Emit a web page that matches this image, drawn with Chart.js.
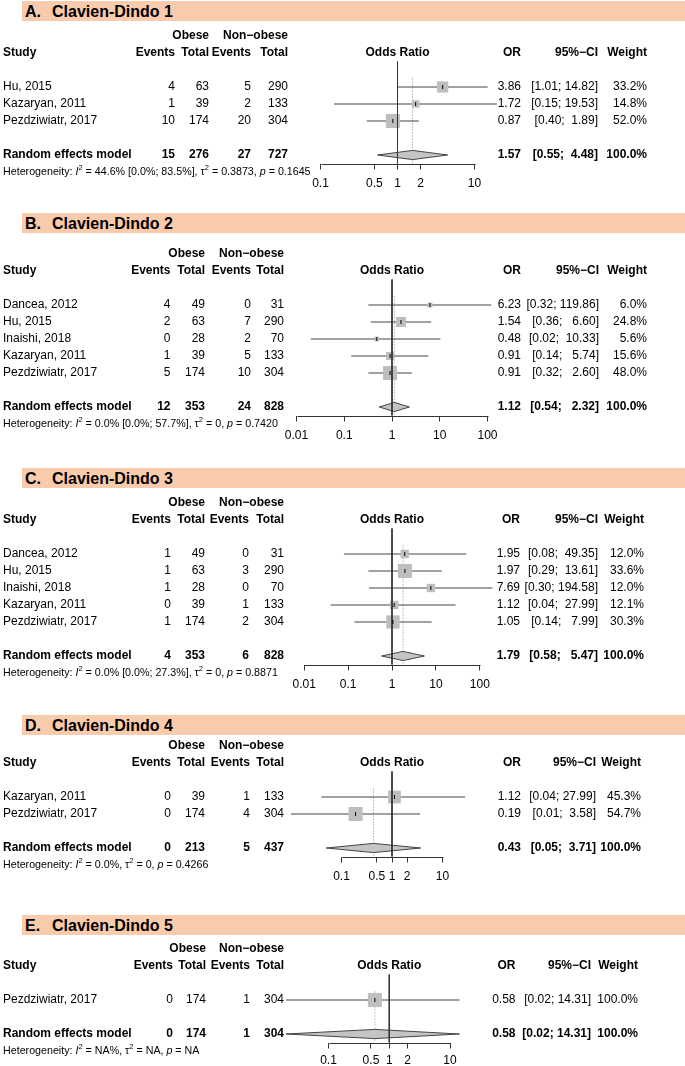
<!DOCTYPE html>
<html>
<head>
<meta charset="utf-8">
<script src="https://cdn.jsdelivr.net/npm/chart.js@4.4.0/dist/chart.umd.min.js"></script>
<style>
  body { margin: 0; background: #fff; }
  #page { position: relative; width: 685px; height: 1066px; overflow: hidden; font-family: "Liberation Sans", Arial, Helvetica, sans-serif; }
  .band { position: absolute; left: 22px; right: 0; height: 20px; background: #F8CBAD; }
  .band span { position: absolute; top: 0; line-height: 21px; font-size: 16px; font-weight: bold; color: #000; }
  canvas { position: absolute; left: 0; }
</style>
</head>
<body>
<div id="page"></div>
<script>
// ---- dados de cada painel ----
const panelLetters = ["A.", "B.", "C.", "D.", "E."];
const panelTitles = ["Clavien-Dindo 1", "Clavien-Dindo 2", "Clavien-Dindo 3", "Clavien-Dindo 4", "Clavien-Dindo 5"];

// Clavien-Dindo 1
const studies1 = ["Hu, 2015", "Kazaryan, 2011", "Pezdziwiatr, 2017"];
const obeseEvents1 = [4, 1, 10];
const obeseTotal1 = [63, 39, 174];
const nonEvents1 = [5, 2, 20];
const nonTotal1 = [290, 133, 304];
const or1 = [3.86, 1.72, 0.87];
const lower1 = [1.01, 0.15, 0.40];
const upper1 = [14.82, 19.53, 1.89];
const weight1 = [33.2, 14.8, 52.0];
const pooled1 = [1.57, 0.55, 4.48];
const pooledCounts1 = [15, 276, 27, 727];
const ticks1 = [0.1, 0.5, 1, 2, 10];

// Clavien-Dindo 2
const studies2 = ["Dancea, 2012", "Hu, 2015", "Inaishi, 2018", "Kazaryan, 2011", "Pezdziwiatr, 2017"];
const obeseEvents2 = [4, 2, 0, 1, 5];
const obeseTotal2 = [49, 63, 28, 39, 174];
const nonEvents2 = [0, 7, 2, 5, 10];
const nonTotal2 = [31, 290, 70, 133, 304];
const or2 = [6.23, 1.54, 0.48, 0.91, 0.91];
const lower2 = [0.32, 0.36, 0.02, 0.14, 0.32];
const upper2 = [119.86, 6.60, 10.33, 5.74, 2.60];
const weight2 = [6.0, 24.8, 5.6, 15.6, 48.0];
const pooled2 = [1.12, 0.54, 2.32];
const pooledCounts2 = [12, 353, 24, 828];
const ticks2 = [0.01, 0.1, 1, 10, 100];

// Clavien-Dindo 3
const studies3 = ["Dancea, 2012", "Hu, 2015", "Inaishi, 2018", "Kazaryan, 2011", "Pezdziwiatr, 2017"];
const obeseEvents3 = [1, 1, 1, 0, 1];
const obeseTotal3 = [49, 63, 28, 39, 174];
const nonEvents3 = [0, 3, 0, 1, 2];
const nonTotal3 = [31, 290, 70, 133, 304];
const or3 = [1.95, 1.97, 7.69, 1.12, 1.05];
const lower3 = [0.08, 0.29, 0.30, 0.04, 0.14];
const upper3 = [49.35, 13.61, 194.58, 27.99, 7.99];
const weight3 = [12.0, 33.6, 12.0, 12.1, 30.3];
const pooled3 = [1.79, 0.58, 5.47];
const pooledCounts3 = [4, 353, 6, 828];
const ticks3 = [0.01, 0.1, 1, 10, 100];

// Clavien-Dindo 4
const studies4 = ["Kazaryan, 2011", "Pezdziwiatr, 2017"];
const obeseEvents4 = [0, 0];
const obeseTotal4 = [39, 174];
const nonEvents4 = [1, 4];
const nonTotal4 = [133, 304];
const or4 = [1.12, 0.19];
const lower4 = [0.04, 0.01];
const upper4 = [27.99, 3.58];
const weight4 = [45.3, 54.7];
const pooled4 = [0.43, 0.05, 3.71];
const pooledCounts4 = [0, 213, 5, 437];
const ticks4 = [0.1, 0.5, 1, 2, 10];

// Clavien-Dindo 5
const studies5 = ["Pezdziwiatr, 2017"];
const obeseEvents5 = [0];
const obeseTotal5 = [174];
const nonEvents5 = [1];
const nonTotal5 = [304];
const or5 = [0.58];
const lower5 = [0.02];
const upper5 = [14.31];
const weight5 = [100.0];
const pooled5 = [0.58, 0.02, 14.31];
const pooledCounts5 = [0, 174, 1, 304];
const ticks5 = [0.1, 0.5, 1, 2, 10];

// heterogeneidade
const hetI2 = ["44.6% [0.0%; 83.5%]", "0.0% [0.0%; 57.7%]", "0.0% [0.0%; 27.3%]", "0.0%", "NA%"];
const hetTau2 = ["0.3873", "0", "0", "0", "NA"];
const hetP = ["0.1645", "0.7420", "0.8871", "0.4266", "NA"];

const panels = [
    { studies: studies1, oe: obeseEvents1, ot: obeseTotal1, ne: nonEvents1, nt: nonTotal1, or: or1, lo: lower1, hi: upper1, w: weight1, pooled: pooled1, counts: pooledCounts1, ticks: ticks1 },
    { studies: studies2, oe: obeseEvents2, ot: obeseTotal2, ne: nonEvents2, nt: nonTotal2, or: or2, lo: lower2, hi: upper2, w: weight2, pooled: pooled2, counts: pooledCounts2, ticks: ticks2 },
    { studies: studies3, oe: obeseEvents3, ot: obeseTotal3, ne: nonEvents3, nt: nonTotal3, or: or3, lo: lower3, hi: upper3, w: weight3, pooled: pooled3, counts: pooledCounts3, ticks: ticks3 },
    { studies: studies4, oe: obeseEvents4, ot: obeseTotal4, ne: nonEvents4, nt: nonTotal4, or: or4, lo: lower4, hi: upper4, w: weight4, pooled: pooled4, counts: pooledCounts4, ticks: ticks4 },
    { studies: studies5, oe: obeseEvents5, ot: obeseTotal5, ne: nonEvents5, nt: nonTotal5, or: or5, lo: lower5, hi: upper5, w: weight5, pooled: pooled5, counts: pooledCounts5, ticks: ticks5 }
];

// ---- layout (pixels) ----
const FONT = '"Liberation Sans", Arial, Helvetica, sans-serif';
const ROW = 17;
const bandTops = [1, 213, 468, 715, 915];
const headerRows = [53, 271, 520, 763, 966];
const onePx = [397.5, 392, 392, 392, 389.25];     // posicao de OR = 1
const decadePx = [77, 47.75, 43.9, 50.5, 60.75];  // largura de uma decada
const tickPad = [7, 7, 7, 7, 5];
// eventos, total, eventos, total, OR, IC, peso (borda direita)
const colX = [
    [175, 209, 251, 288, 521, 598, 647],
    [170.5, 205, 251, 284, 521, 599, 647],
    [171, 205, 249, 284, 520, 598, 644],
    [171, 205, 250, 284, 521, 596, 641],
    [173, 206, 250, 284, 515.5, 591, 638]
];
const AREA_L = 200, AREA_R = 540;
const SQUARE_MAX = 14;

const page = document.getElementById('page');

function texto(ctx, s, x, y, align, bold, size) {
    ctx.font = (bold ? 'bold ' : '') + (size || 12) + 'px ' + FONT;
    ctx.textAlign = align;
    ctx.textBaseline = 'middle';
    ctx.fillStyle = '#000';
    ctx.fillText(s, x, y);
}

function textoRico(ctx, partes, x, y) {
    ctx.textAlign = 'left';
    ctx.textBaseline = 'middle';
    ctx.fillStyle = '#000';
    for (const [s, estilo] of partes) {
        const sup = estilo === 'sup';
        ctx.font = (estilo === 'i' ? 'italic ' : '') + (sup ? 7.5 : 10.7) + 'px ' + FONT;
        ctx.fillText(s, x, sup ? y - 4 : y);
        x += ctx.measureText(s).width;
    }
}

function pad(s, n) {
    while (s.length < n) s = ' ' + s;
    return s;
}

panels.forEach(function (p, i) {
    // faixa do titulo
    const band = document.createElement('div');
    band.className = 'band';
    band.style.top = bandTops[i] + 'px';
    band.innerHTML = '<span style="left:3px">' + panelLetters[i] + '</span><span style="left:30px">' + panelTitles[i] + '</span>';
    page.appendChild(band);

    const n = p.studies.length;
    const axisRow = n + 3.5;
    const pooledRow = n + 3;
    const padTop = 42.5;
    const chartH = (axisRow - 0.5) * ROW;
    const axisH = 30;
    const H = Math.ceil(padTop + chartH + axisH);

    const canvas = document.createElement('canvas');
    canvas.width = 685;
    canvas.height = H;
    canvas.style.top = (headerRows[i] - 34) + 'px';
    page.appendChild(canvas);

    const xmin = Math.pow(10, (AREA_L - onePx[i]) / decadePx[i]);
    const xmax = Math.pow(10, (AREA_R - onePx[i]) / decadePx[i]);

    // formato do IC como no R (preenchido com espacos)
    const allLo = p.lo.concat([p.pooled[1]]).map(v => v.toFixed(2));
    const allHi = p.hi.concat([p.pooled[2]]).map(v => v.toFixed(2));
    const wLo = Math.max(...allLo.map(s => s.length));
    const wHi = Math.max(...allHi.map(s => s.length));
    const ci = allLo.map((s, k) => '[' + pad(s, wLo) + '; ' + pad(allHi[k], wHi) + ']');

    const maxW = Math.max(...p.w);
    const ciData = [];
    p.lo.forEach(function (v, k) {
        ciData.push({ x: v, y: k + 2 }, { x: p.hi[k], y: k + 2 }, { x: p.hi[k], y: null });
    });
    const est = p.pooled[0];
    const half = 0.27;

    const cols = colX[i];
    const tabela = {
        id: 'tabela' + i,
        afterDraw(chart) {
            const ctx = chart.ctx;
            const ys = chart.scales.y;
            const xs = chart.scales.x;
            const yAt = r => ys.getPixelForValue(r);

            // linha do eixo x (so entre o primeiro e o ultimo tick)
            ctx.save();
            ctx.strokeStyle = '#333';
            ctx.lineWidth = 1;
            ctx.beginPath();
            const yb = Math.round(chart.chartArea.bottom) + 0.5;
            ctx.moveTo(Math.round(xs.getPixelForValue(p.ticks[0])) + 0.5, yb);
            ctx.lineTo(Math.round(xs.getPixelForValue(p.ticks[p.ticks.length - 1])) + 0.5, yb);
            ctx.stroke();

            // cabecalho
            texto(ctx, 'Obese', cols[1], yAt(-1), 'right', true);
            texto(ctx, 'Non\u2212obese', cols[3], yAt(-1), 'right', true);
            texto(ctx, 'Study', 3, yAt(0), 'left', true);
            texto(ctx, 'Events', cols[0], yAt(0), 'right', true);
            texto(ctx, 'Total', cols[1], yAt(0), 'right', true);
            texto(ctx, 'Events', cols[2], yAt(0), 'right', true);
            texto(ctx, 'Total', cols[3], yAt(0), 'right', true);
            texto(ctx, 'Odds Ratio', xs.getPixelForValue(1), yAt(0), 'center', true);
            texto(ctx, 'OR', cols[4], yAt(0), 'right', true);
            texto(ctx, '95%\u2212CI', cols[5], yAt(0), 'right', true);
            texto(ctx, 'Weight', cols[6], yAt(0), 'right', true);

            // estudos
            p.studies.forEach(function (s, k) {
                const y = yAt(k + 2);
                texto(ctx, s, 3, y, 'left', false);
                texto(ctx, String(p.oe[k]), cols[0], y, 'right', false);
                texto(ctx, String(p.ot[k]), cols[1], y, 'right', false);
                texto(ctx, String(p.ne[k]), cols[2], y, 'right', false);
                texto(ctx, String(p.nt[k]), cols[3], y, 'right', false);
                texto(ctx, p.or[k].toFixed(2), cols[4], y, 'right', false);
                texto(ctx, ci[k], cols[5], y, 'right', false);
                texto(ctx, p.w[k].toFixed(1) + '%', cols[6], y, 'right', false);
            });

            // modelo de efeitos aleatorios
            const yp = yAt(pooledRow);
            texto(ctx, 'Random effects model', 3, yp, 'left', true);
            p.counts.forEach(function (c, k) {
                texto(ctx, String(c), cols[k], yp, 'right', true);
            });
            texto(ctx, est.toFixed(2), cols[4], yp, 'right', true);
            texto(ctx, ci[n], cols[5], yp, 'right', true);
            texto(ctx, '100.0%', cols[6], yp, 'right', true);

            textoRico(ctx, [
                ['Heterogeneity: '], ['I', 'i'], ['2', 'sup'], [' = ' + hetI2[i] + ', '],
                ['\u03c4'], ['2', 'sup'], [' = ' + hetTau2[i] + ', '], ['p', 'i'], [' = ' + hetP[i]]
            ], 3, yAt(pooledRow + 1));
            ctx.restore();
        }
    };

    new Chart(canvas, {
        type: 'scatter',
        data: {
            datasets: [
                { // marca da estimativa
                    data: p.or.map((v, k) => ({ x: v, y: k + 2 })),
                    pointStyle: 'line', rotation: 90, pointRadius: 2,
                    borderColor: '#000', pointBorderWidth: 1, clip: false
                },
                { // linha de referencia OR = 1
                    data: [{ x: 1, y: 0.5 }, { x: 1, y: axisRow }],
                    showLine: true, borderColor: '#333', borderWidth: 1, pointRadius: 0, clip: false
                },
                { // quadrados (peso)
                    data: p.or.map((v, k) => ({ x: v, y: k + 2 })),
                    pointStyle: 'rect',
                    pointRadius: p.w.map(w => SQUARE_MAX * Math.sqrt(w / maxW) / Math.SQRT2),
                    backgroundColor: '#bebebe', borderWidth: 0, pointBorderWidth: 0, clip: false
                },
                { // diamante
                    data: [
                        { x: p.pooled[1], y: pooledRow }, { x: est, y: pooledRow - half },
                        { x: p.pooled[2], y: pooledRow }, { x: est, y: pooledRow + half },
                        { x: p.pooled[1], y: pooledRow }
                    ],
                    showLine: true, fill: 'shape', backgroundColor: '#c4c4c4',
                    borderColor: '#444', borderWidth: 1, pointRadius: 0, clip: false
                },
                { // intervalos de confianca
                    data: ciData,
                    showLine: true, spanGaps: false, borderColor: '#444', borderWidth: 1, pointRadius: 0, clip: false
                },
                { // linha pontilhada do efeito combinado
                    data: [{ x: est, y: 1.5 }, { x: est, y: axisRow }],
                    showLine: true, borderColor: '#888', borderWidth: 1, borderDash: [1, 2], pointRadius: 0, clip: false
                }
            ]
        },
        options: {
            responsive: false,
            animation: false,
            events: [],
            layout: {
                autoPadding: false,
                padding: { left: AREA_L, right: 685 - AREA_R, top: padTop, bottom: H - padTop - chartH - axisH }
            },
            scales: {
                x: {
                    type: 'logarithmic',
                    min: xmin,
                    max: xmax,
                    afterBuildTicks: s => { s.ticks = p.ticks.map(v => ({ value: v })); },
                    afterFit: s => { s.height = axisH; },
                    ticks: {
                        autoSkip: false, maxRotation: 0, minRotation: 0, padding: tickPad[i],
                        color: '#000', font: { size: 12, family: FONT },
                        callback: v => String(v)
                    },
                    grid: { drawOnChartArea: false, drawTicks: true, tickLength: 6, color: '#333', lineWidth: 1 },
                    border: { display: false }
                },
                y: {
                    type: 'linear', reverse: true, min: 0.5, max: axisRow, display: false
                }
            },
            plugins: {
                legend: { display: false },
                tooltip: { enabled: false }
            }
        },
        plugins: [tabela]
    });
});
</script>
</body>
</html>
